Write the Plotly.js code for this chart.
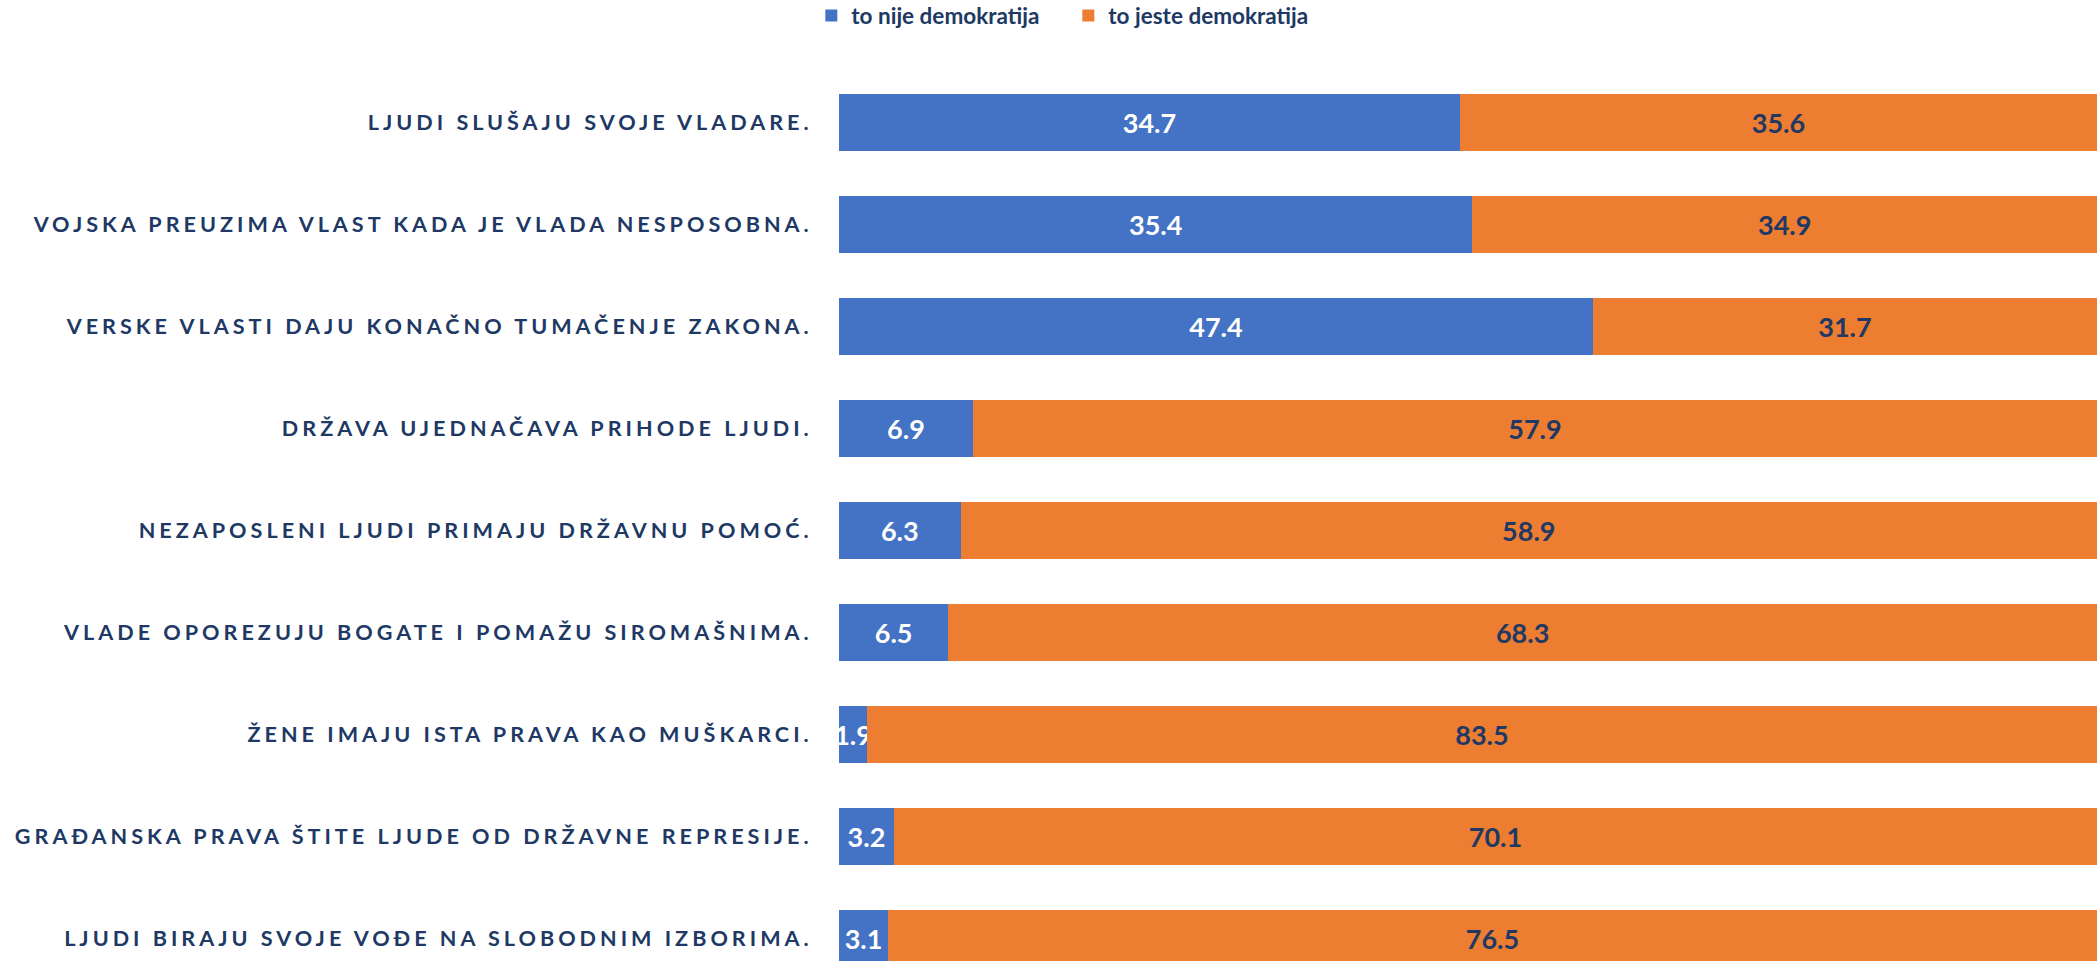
<!DOCTYPE html>
<html>
<head>
<meta charset="utf-8">
<script src="https://cdn.plot.ly/plotly-3.0.1.min.js"></script>
<style>
  html, body { margin: 0; padding: 0; background: #fff; }
  #chart { width: 2097px; height: 961px; }
  .ytick text { letter-spacing: 4px; }
</style>
</head>
<body>
<div id="chart"></div>
<script>
const categories = [
  "LJUDI SLUŠAJU SVOJE VLADARE.",
  "VOJSKA PREUZIMA VLAST KADA JE VLADA NESPOSOBNA.",
  "VERSKE VLASTI DAJU KONAČNO TUMAČENJE ZAKONA.",
  "DRŽAVA UJEDNAČAVA PRIHODE LJUDI.",
  "NEZAPOSLENI LJUDI PRIMAJU DRŽAVNU POMOĆ.",
  "VLADE OPOREZUJU BOGATE I POMAŽU SIROMAŠNIMA.",
  "ŽENE IMAJU ISTA PRAVA KAO MUŠKARCI.",
  "GRAĐANSKA PRAVA ŠTITE LJUDE OD DRŽAVNE REPRESIJE.",
  "LJUDI BIRAJU SVOJE VOĐE NA SLOBODNIM IZBORIMA."
];
const nijeDemokratija = [34.7, 35.4, 47.4, 6.9, 6.3, 6.5, 1.9, 3.2, 3.1];
const jesteDemokratija = [35.6, 34.9, 31.7, 57.9, 58.9, 68.3, 83.5, 70.1, 76.5];
const seriesNames = ["to nije demokratija", "to jeste demokratija"];

const navy = "#203864";
const fontFam = "Lato, 'Open Sans', sans-serif";

const traces = [
  {
    type: "bar", orientation: "h", name: seriesNames[0],
    y: categories, x: nijeDemokratija,
    text: nijeDemokratija.map(v => v.toFixed(1)),
    texttemplate: "%{text}",
    textposition: "inside", insidetextanchor: "middle", constraintext: "none", textangle: 0,
    insidetextfont: { family: fontFam, size: 27, color: "#ffffff", weight: 700 },
    marker: { color: "#4472C4", line: { width: 0 } }
  },
  {
    type: "bar", orientation: "h", name: seriesNames[1],
    y: categories, x: jesteDemokratija,
    text: jesteDemokratija.map(v => v.toFixed(1)),
    texttemplate: "%{text}",
    textposition: "inside", insidetextanchor: "middle", constraintext: "none", textangle: 0,
    insidetextfont: { family: fontFam, size: 27, color: navy, weight: 700 },
    marker: { color: "#ED7D31", line: { width: 0 } }
  }
];

const layout = {
  width: 2097, height: 961,
  margin: { l: 839, r: 0, t: 70.6, b: 0, pad: 0, autoexpand: false },
  paper_bgcolor: "#ffffff", plot_bgcolor: "#ffffff",
  barmode: "stack", barnorm: "percent", bargap: 0.442,
  showlegend: true,
  legend: {
    orientation: "h", x: -0.022, xanchor: "left", y: 1.062, yanchor: "middle",
    entrywidth: 212, entrywidthmode: "pixels",
    font: { family: fontFam, size: 22.5, color: navy, weight: 700 },
    traceorder: "normal", itemclick: false, itemdoubleclick: false
  },
  xaxis: { range: [0, 100], visible: false, showgrid: false, zeroline: false, fixedrange: true },
  yaxis: {
    type: "category", categoryorder: "array", categoryarray: categories,
    range: [8.221, -0.5], autorange: false,
    showgrid: false, zeroline: false, showline: false,
    ticks: "outside", ticklen: 21, tickcolor: "rgba(0,0,0,0)",
    tickfont: { family: fontFam, size: 21.6, color: navy, weight: 700 },
    automargin: false, fixedrange: true
  },
  hovermode: "closest"
};

Plotly.newPlot("chart", traces, layout, { displayModeBar: false, staticPlot: false, responsive: false });
</script>
</body>
</html>
